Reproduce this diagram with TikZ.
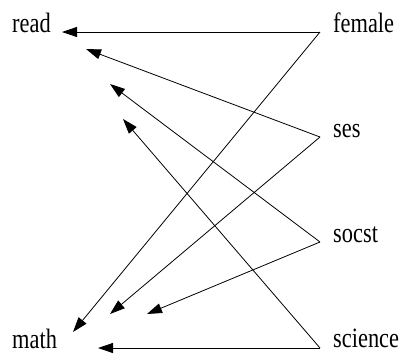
\documentclass[tikz,border=0pt]{standalone}
\usepackage{fontspec}
\setmainfont{Liberation Serif}[FakeStretch=0.8]
\usetikzlibrary{arrows.meta,calc}

\begin{document}
\begin{tikzpicture}[x=1pt, y=-1pt,
    var/.style={font=\fontsize{28}{30}\selectfont, inner sep=0pt, anchor=base west},
    effect/.style={-{Triangle[length=15pt,width=10pt]}, line width=0.8pt},
]
\useasboundingbox (0,0) rectangle (401,354);

% Outcomes
\node[var] (read) at (12,32) {read};
\node[var] (math) at (12,348) {math};

% Predictors
\node[var] (female) at (333,32) {female};
\node[var] (ses) at (333,137) {ses};
\node[var] (socst) at (333,242) {socst};
\node[var] (science) at (333,347) {science};

% Where the paths leave the predictors
\coordinate (femaleout) at ($(female.base west)+(-13,0)$);
\coordinate (sesout) at ($(ses.base west)+(-13,0)$);
\coordinate (socstout) at ($(socst.base west)+(-13,0)$);
\coordinate (scienceout) at ($(science.base west)+(-13,1)$);

% Arrow tips near read
\coordinate (readA) at (62,32);
\coordinate (readB) at (86,49);
\coordinate (readC) at (110,84);
\coordinate (readD) at (123,119);

% Arrow tips near math
\coordinate (mathA) at (73,332);
\coordinate (mathB) at (110,314);
\coordinate (mathC) at (147,314);
\coordinate (mathD) at (98,348);

% Paths
\draw[effect] (femaleout) -- (readA);
\draw[effect] (femaleout) -- (mathA);
\draw[effect] (sesout) -- (readB);
\draw[effect] (sesout) -- (mathB);
\draw[effect] (socstout) -- (readC);
\draw[effect] (socstout) -- (mathC);
\draw[effect] (scienceout) -- (readD);
\draw[effect] (scienceout) -- (mathD);

\end{tikzpicture}
\end{document}
